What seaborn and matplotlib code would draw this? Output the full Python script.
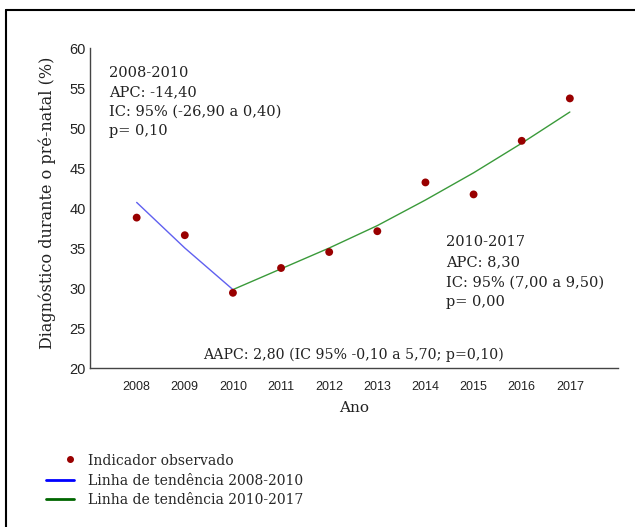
import matplotlib
matplotlib.use("Agg")
import matplotlib.pyplot as plt
import seaborn as sns
import pandas as pd
from matplotlib.lines import Line2D
from matplotlib.legend_handler import HandlerLine2D

years = [2008, 2009, 2010, 2011, 2012, 2013, 2014, 2015, 2016, 2017]
observed = [38.8, 36.6, 29.4, 32.5, 34.5, 37.1, 43.2, 41.7, 48.4, 53.7]

trend1_years = [2008, 2009, 2010]
trend1_values = [40.7, 35.0, 29.8]

trend2_years = [2010, 2011, 2012, 2013, 2014, 2015, 2016, 2017]
trend2_values = [29.8, 32.4, 35.0, 37.8, 41.0, 44.4, 48.1, 52.0]

yticks = [20, 25, 30, 35, 40, 45, 50, 55, 60]

text_left = "2008-2010\nAPC: -14,40\nIC: 95% (-26,90 a 0,40)\np= 0,10"
text_right = "2010-2017\nAPC: 8,30\nIC: 95% (7,00 a 9,50)\np= 0,00"
text_aapc = "AAPC: 2,80 (IC 95% -0,10 a 5,70; p=0,10)"
legend_labels = ["Indicador observado", "Linha de tendência 2008-2010", "Linha de tendência 2010-2017"]


class RightDotHandler(HandlerLine2D):
    """Legend handler that draws the marker near the right end of the handle."""
    def create_artists(self, legend, orig_handle, xdescent, ydescent, width, height,
                       fontsize, trans):
        artists = super().create_artists(legend, orig_handle, xdescent, ydescent, width,
                                         height, fontsize, trans)
        for a in artists:
            a.set_xdata(a.get_xdata() + 0.38 * width)
            a.set_ydata(a.get_ydata() + 0.12 * height)
        return artists


sns.set_theme(style="white")
plt.rcParams['font.family'] = ['DejaVu Serif']

df_obs = pd.DataFrame({"Ano": years, "valor": observed})
df_t1 = pd.DataFrame({"Ano": trend1_years, "valor": trend1_values})
df_t2 = pd.DataFrame({"Ano": trend2_years, "valor": trend2_values})

fig = plt.figure(figsize=(6.35, 5.27), dpi=100)
ax = fig.add_axes([0.1417, 0.3017, 0.8315, 0.6072])

sns.lineplot(data=df_t1, x="Ano", y="valor", ax=ax, color="#6060f0", linewidth=1.0)
sns.lineplot(data=df_t2, x="Ano", y="valor", ax=ax, color="#3a9a3a", linewidth=1.0)
sns.scatterplot(data=df_obs, x="Ano", y="valor", ax=ax, color="#990000", s=32,
                edgecolor="none", zorder=5)

ax.set_xlim(2007.03, 2018.0)
ax.set_ylim(20, 60)
ax.set_yticks(yticks)
ax.set_xticks(years)
ax.set_xticklabels([str(y) for y in years], family=['Liberation Sans Narrow', 'Liberation Sans'],
                   fontsize=9, color="#222222")
ax.set_yticklabels([str(v) for v in yticks], family=['Liberation Sans', 'DejaVu Sans'],
                   fontsize=10.5, color="#222222")
ax.tick_params(axis='both', length=0)
ax.tick_params(axis='x', pad=9)
ax.tick_params(axis='y', pad=3)

for s in ['top', 'right']:
    ax.spines[s].set_visible(False)
for s in ['left', 'bottom']:
    ax.spines[s].set_color("#444444")
    ax.spines[s].set_linewidth(1.0)

ax.set_xlabel("Ano", fontsize=11, color="#222222", labelpad=6)
ax.set_ylabel("Diagnóstico durante o pré-natal (%)", fontsize=11.5, color="#222222", labelpad=10)
ax.yaxis.label.set_y(0.515)

ax.text(2007.42, 57.8, text_left, fontsize=10.5, color="#222222", va="top", ha="left",
        linespacing=1.5)
ax.text(2014.42, 36.6, text_right, fontsize=10.5, color="#222222", va="top", ha="left",
        linespacing=1.55)
ax.text(2012.5, 21.7, text_aapc, fontsize=10.2, color="#222222", va="center", ha="center")

handles = [
    Line2D([], [], linestyle="none", marker="o", markersize=4, color="#990000"),
    Line2D([], [], color="#0000ff", linewidth=2),
    Line2D([], [], color="#006600", linewidth=2),
]
fig.legend(handles, legend_labels, loc="upper left", bbox_to_anchor=(0.0723, 0.1385),
           frameon=False, fontsize=10, handlelength=2.0, handletextpad=1.0,
           labelspacing=0.4, borderaxespad=0, borderpad=0, numpoints=1,
           handler_map={handles[0]: RightDotHandler(numpoints=1)})

# frame around the figure (left and top edges visible)
fig.add_artist(Line2D([0.0095, 0.0095], [0.0, 0.981], transform=fig.transFigure,
                      color="black", linewidth=1.5))
fig.add_artist(Line2D([0.0095, 1.0], [0.981, 0.981], transform=fig.transFigure,
                      color="black", linewidth=1.5))

fig.savefig("out.png", dpi=100)
